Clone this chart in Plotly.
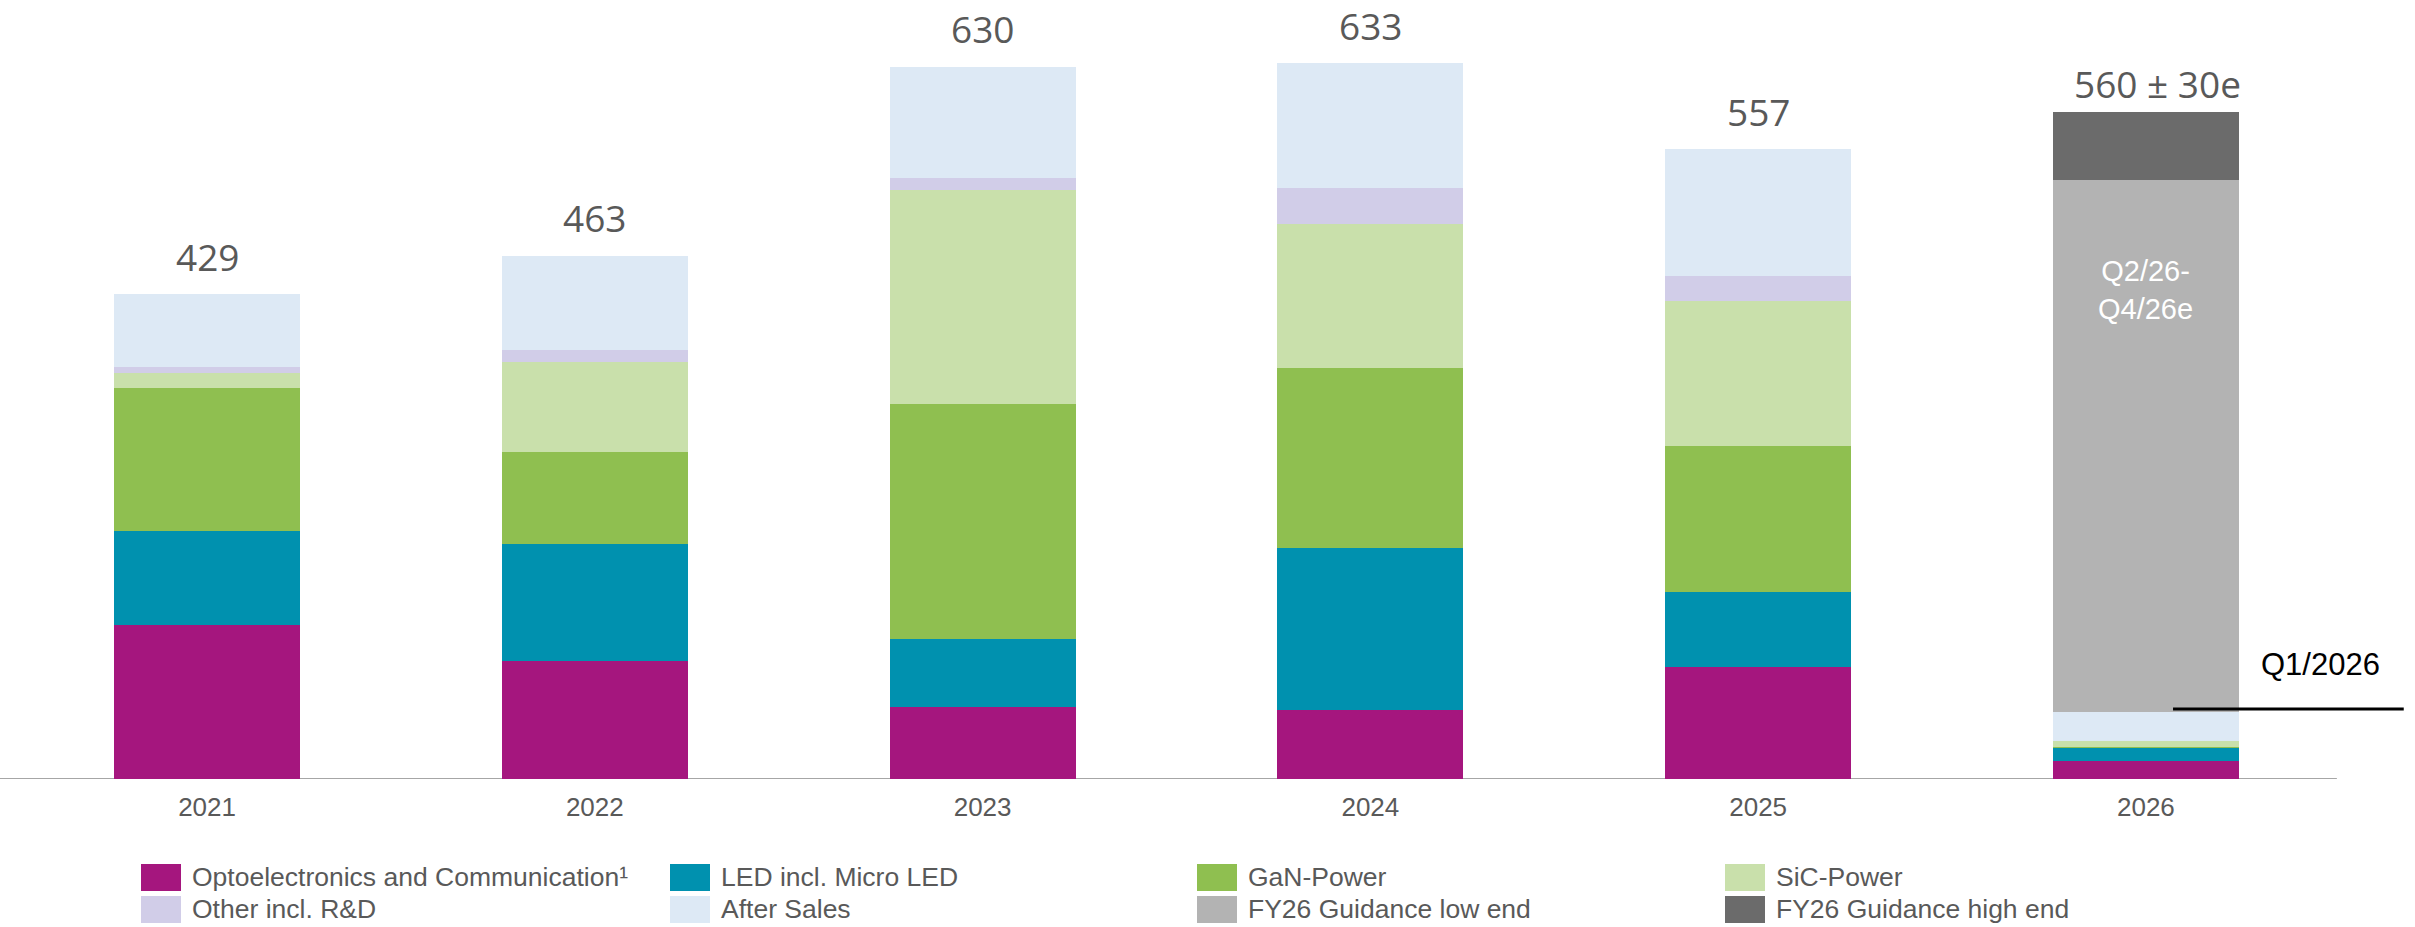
import plotly.graph_objects as go

# ---------------- data ----------------
years = ["2021", "2022", "2023", "2024", "2025", "2026"]
opto = [136.5, 104.5, 64, 61, 99.5, 16]
led = [83, 103.5, 60, 143, 65.5, 12]
gan = [126, 81, 207.5, 159.5, 129.5, 0.5]
sic = [14, 79.5, 189.5, 127.5, 128, 5]
other = [5, 11, 10.5, 32, 22.5, 0]
after_sales = [64.5, 83.5, 98.5, 110, 112, 25.5]
fy26_low = [None, None, None, None, None, 471]
fy26_high = [None, None, None, None, None, 60]
total_labels = ["429", "463", "630", "633", "557", "560 ± 30e"]

series_names = ["Optoelectronics and Communication¹", "LED incl. Micro LED", "GaN-Power",
                "SiC-Power", "Other incl. R&D", "After Sales",
                "FY26 Guidance low end", "FY26 Guidance high end"]
series_values = [opto, led, gan, sic, other, after_sales, fy26_low, fy26_high]
colors = ["#A5167E", "#0091AF", "#8FBF50", "#C9E0AB", "#D1CDE8", "#DDE9F5",
          "#B3B3B3", "#6B6B6B"]

# ---------------- layout constants ----------------
W, H = 2415, 927
B = 148
PH = H - B
GRAY = "#595959"
x = list(range(len(years)))


def px_x(p):
    return p / W


def px_y(p):
    return (PH - p) / PH


fig = go.Figure()
for name, vals, col in zip(series_names, series_values, colors):
    fig.add_trace(go.Bar(x=x, y=vals, name=name, marker=dict(color=col, line=dict(width=0)),
                         width=0.48, showlegend=False, hoverinfo="skip"))

totals = [sum(v[i] or 0 for v in series_values) for i in range(len(years))]
q1_total = sum(v[-1] or 0 for v in series_values[:6])

annotations = []
for i, (t, lab) in enumerate(zip(totals, total_labels)):
    last = i == len(years) - 1
    annotations.append(dict(x=x[i], y=t, xref="x", yref="y", text=lab, showarrow=False,
                            yanchor="middle", yshift=29 if last else 38, borderpad=0,
                            xshift=12 if last else 0,
                            font=dict(family="Open Sans", size=37, color=GRAY)))

# label inside the guidance bar
annotations.append(dict(x=x[-1], y=q1_total + fy26_low[-1], xref="x", yref="y",
                        text="Q2/26-<br>Q4/26e", showarrow=False, yanchor="middle",
                        yshift=-110, font=dict(family="Liberation Sans, Arial", size=29,
                                               color="white")))
# Q1/2026 callout
annotations.append(dict(x=x[-1] + 0.449, y=q1_total, xref="x", yref="y", text="Q1/2026",
                        showarrow=False, yanchor="middle", yshift=48,
                        font=dict(family="Liberation Sans, Arial", size=31, color="black")))

shapes = [
    # baseline axis
    dict(type="line", xref="x", yref="y", x0=-0.534, x1=5.4925, y0=0, y1=0,
         line=dict(color="#A6A6A6", width=2), layer="below"),
    # Q1 line
    dict(type="line", xref="x", yref="y", x0=x[-1] + 0.07, x1=x[-1] + 0.665,
         y0=q1_total + 3, y1=q1_total + 3, line=dict(color="black", width=3)),
]

# custom legend
col_x = [141, 670, 1197, 1725]
row_y = [864, 896]
for k, (name, col) in enumerate(zip(series_names, colors)):
    r, c = divmod(k, 4)
    x0 = col_x[c]
    y0 = row_y[r]
    shapes.append(dict(type="rect", xref="paper", yref="paper",
                       x0=px_x(x0), x1=px_x(x0 + 40), y0=px_y(y0 + 27), y1=px_y(y0),
                       fillcolor=col, line=dict(width=0)))
    annotations.append(dict(xref="paper", yref="paper", x=px_x(x0 + 49), y=px_y(y0 + 13.5),
                            xanchor="left", yanchor="middle", text=name, showarrow=False,
                            font=dict(family="Liberation Sans, Arial", size=26.5, color=GRAY)))

fig.update_layout(
    width=W, height=H,
    margin=dict(l=0, r=0, t=0, b=B, pad=0),
    paper_bgcolor="white", plot_bgcolor="white",
    barmode="stack",
    xaxis=dict(range=[-0.534, 5.694], tickvals=x, ticktext=years, showgrid=False,
               zeroline=False, showline=False, ticks="", ticklabelstandoff=10,
               tickfont=dict(family="Liberation Sans, Arial", size=26, color=GRAY),
               fixedrange=True),
    yaxis=dict(range=[0, PH / 1.1305], visible=False, showgrid=False, zeroline=False,
               fixedrange=True),
    annotations=annotations,
    shapes=shapes,
)

fig.write_html("out.html")
